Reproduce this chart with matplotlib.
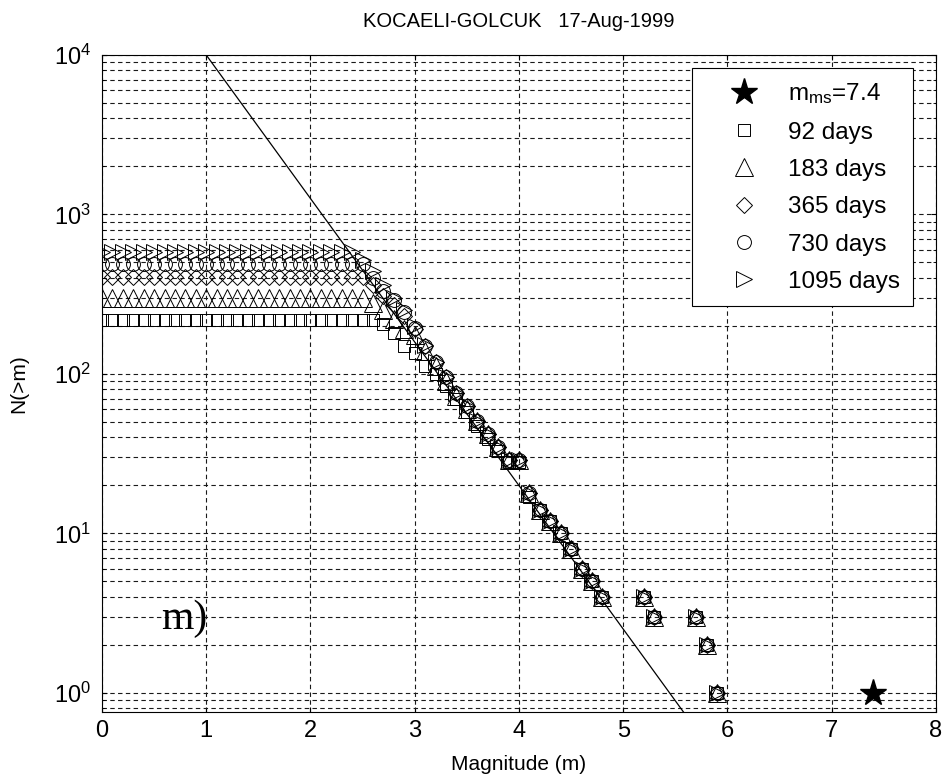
import numpy as np
import matplotlib
matplotlib.use("Agg")
import matplotlib.pyplot as plt

plt.rcParams["font.family"] = ["Liberation Sans", "DejaVu Sans"]
plt.rcParams["mathtext.default"] = "regular"

# magnitudes below the roll-off (0.0 .. 2.9) and above it
mag_low = [round(0.1 * i, 1) for i in range(30)]
mag_high = [3.0, 3.1, 3.2, 3.3, 3.4, 3.5, 3.6, 3.7, 3.8, 3.9, 4.0, 4.1,
            4.2, 4.3, 4.4, 4.5, 4.6, 4.7, 4.8, 5.2, 5.3, 5.7, 5.8, 5.9]

# cumulative counts N(>m) for each time window
n_92_low = [218] * 27 + [205, 181, 150]
n_92_high = [135, 112, 100, 84, 70, 58, 47, 39, 33, 28, 28, 17,
             14, 12, 10, 8, 6, 5, 4, 4, 3, 3, 2, 1]
n_183_low = [299] * 26 + [280, 250, 220, 190]
n_183_high = [175, 140, 112, 90, 73, 60, 51, 42, 35, 29, 29, 18,
              14, 12, 10, 8, 6, 5, 4, 4, 3, 3, 2, 1]
n_365_low = [408] * 26 + [360, 310, 270, 230]
n_365_high = [190, 150, 118, 95, 76, 63, 51, 42, 35, 29, 29, 18,
              14, 12, 10, 8, 6, 5, 4, 4, 3, 3, 2, 1]
n_730_low = [490] * 26 + [400, 330, 290, 245]
n_730_high = [195, 150, 118, 95, 76, 63, 51, 42, 35, 29, 29, 18,
              14, 12, 10, 8, 6, 5, 4, 4, 3, 3, 2, 1]
n_1095_low = [578] * 25 + [520, 440, 360, 300, 250]
n_1095_high = [200, 152, 118, 95, 76, 63, 51, 42, 35, 29, 29, 18,
               14, 12, 10, 8, 6, 5, 4, 4, 3, 3, 2, 1]

# mainshock
main_mag = [7.4]
main_n = [1]

# Gutenberg-Richter fit: log10 N = a - b m
gr_a = 4.9
gr_b = 0.9

series = [
    ("92 days", n_92_low + n_92_high, "s", 9),
    ("183 days", n_183_low + n_183_high, "^", 13),
    ("365 days", n_365_low + n_365_high, "D", 8.5),
    ("730 days", n_730_low + n_730_high, "o", 10),
    ("1095 days", n_1095_low + n_1095_high, ">", 12),
]
mags = mag_low + mag_high

fig = plt.figure(figsize=(9.44, 7.83), dpi=100)
ax = fig.add_axes([0.108, 0.0907, 0.8835, 0.8391])

grid_kw = dict(color="0.1", linewidth=0.8, dashes=(4, 3))
ax.grid(True, which="major", axis="both", **grid_kw)
ax.grid(True, which="minor", axis="y", **grid_kw)
ax.set_axisbelow(True)

m_fit = np.linspace(0, 8, 200)
ax.plot(m_fit, 10 ** (gr_a - gr_b * m_fit), color="black", linewidth=0.9)

star, = ax.plot(main_mag, main_n, linestyle="none", marker="*",
                markersize=20, color="black", label="m$_{ms}$=7.4")
handles = [star]
for label, counts, marker, ms in series:
    h, = ax.plot(mags, counts, linestyle="none", marker=marker,
                 markersize=ms, markerfacecolor="none",
                 markeredgecolor="black", markeredgewidth=0.7,
                 label=label)
    handles.append(h)

ax.set_yscale("log")
ax.set_xlim(0, 8)
ax.set_ylim(10 ** -0.12, 1e4)
ax.set_xticks(range(9))
ax.tick_params(which="both", direction="in", labelsize=17, top=True,
               right=True)
ax.tick_params(axis="x", pad=6)
ax.tick_params(axis="y", pad=8)
for s in ax.spines.values():
    s.set_linewidth(0.8)

ax.set_xlabel("Magnitude (m)", fontsize=15, labelpad=9)
ax.set_ylabel("N(>m)", fontsize=15)
ax.yaxis.set_label_coords(-0.088, 0.5)
ax.set_title("KOCAELI-GOLCUK   17-Aug-1999", fontsize=14.5, pad=20)

ax.text(0.57, 2.9, "m)", fontsize=30, family="Liberation Serif",
        va="center", ha="left")

leg = ax.legend(handles=handles, loc="upper right",
                bbox_to_anchor=(913 / 944, 1 - 68 / 783),
                bbox_transform=fig.transFigure, borderaxespad=0,
                fontsize=17.5, labelspacing=0.63, handlelength=3.2,
                handletextpad=0.2, borderpad=0.55, fancybox=False,
                framealpha=1, edgecolor="black")
leg.get_frame().set_linewidth(0.8)

fig.savefig("out.png", dpi=100)
